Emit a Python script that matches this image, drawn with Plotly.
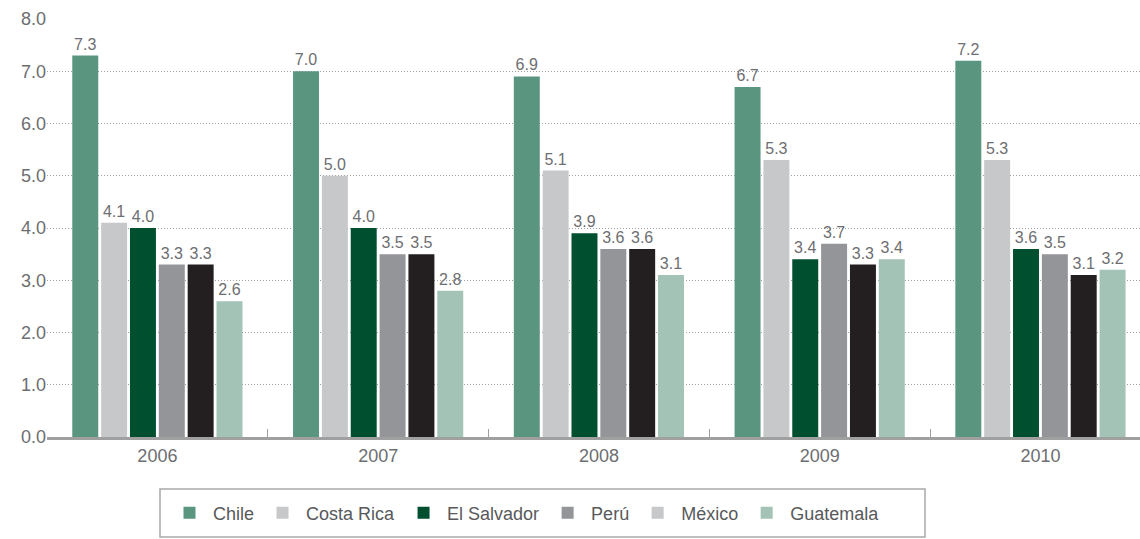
import plotly.graph_objects as go

years = ["2006", "2007", "2008", "2009", "2010"]
countries = ["Chile", "Costa Rica", "El Salvador", "Perú", "México", "Guatemala"]

chile = [7.3, 7.0, 6.9, 6.7, 7.2]
costa_rica = [4.1, 5.0, 5.1, 5.3, 5.3]
el_salvador = [4.0, 4.0, 3.9, 3.4, 3.6]
peru = [3.3, 3.5, 3.6, 3.7, 3.5]
mexico = [3.3, 3.5, 3.6, 3.3, 3.1]
guatemala = [2.6, 2.8, 3.1, 3.4, 3.2]

series = [chile, costa_rica, el_salvador, peru, mexico, guatemala]
bar_colors = ["#5a9580", "#c7c8ca", "#00502f", "#939598", "#231f20", "#a2c3b5"]
legend_colors = ["#5a9580", "#c7c8ca", "#00502f", "#939598", "#c7c8ca", "#a2c3b5"]

FONT = "Liberation Sans, Arial, sans-serif"
W, H = 1140, 539
ML, MT, MB = 47, 19, 102
PLOT_H = H - MT - MB

fig = go.Figure()
for i, (name, vals) in enumerate(zip(countries, series)):
    same = bar_colors[i] == legend_colors[i]
    fig.add_trace(go.Bar(
        x=years, y=vals, name=name,
        marker=dict(color=bar_colors[i], line=dict(width=0)),
        offsetgroup=str(i), legendrank=i + 1,
        texttemplate="%{y:.1f}", textposition="outside",
        textfont=dict(size=16, color="#6d6e71", family=FONT),
        cliponaxis=False, showlegend=same,
    ))
    if not same:
        # legend entry carries its own swatch colour
        fig.add_trace(go.Bar(
            x=[years[0]], y=[None], name=name,
            marker=dict(color=legend_colors[i], line=dict(width=0)),
            offsetgroup=str(i), legendrank=i + 1, showlegend=True,
        ))

def px_to_paper_y(py):
    return (H - MB - py) / PLOT_H

def px_to_paper_x(px):
    return (px - ML) / (W - ML)

# frame around the legend
fig.add_shape(
    type="rect", xref="paper", yref="paper",
    x0=px_to_paper_x(160), x1=px_to_paper_x(925),
    y0=px_to_paper_y(537), y1=px_to_paper_y(489),
    line=dict(color="#a7a9ac", width=1.5), fillcolor="rgba(0,0,0,0)",
)

fig.update_layout(
    width=W, height=H,
    margin=dict(l=ML, r=0, t=MT, b=MB),
    paper_bgcolor="white", plot_bgcolor="white",
    barmode="group", bargap=0.216, bargroupgap=0.1,
    font=dict(family=FONT, color="#6d6e71"),
    showlegend=True,
    legend=dict(
        orientation="h", x=px_to_paper_x(166), xanchor="left",
        y=px_to_paper_y(513), yanchor="middle",
        borderwidth=0, bgcolor="rgba(0,0,0,0)",
        font=dict(size=18, color="#58595b", family=FONT),
        traceorder="normal", itemwidth=37,
    ),
)
fig.update_xaxes(
    type="category", range=[-0.5, 4.451], showgrid=False,
    showline=True, linecolor="#a0a0a0", linewidth=3,
    ticks="inside", tickson="boundaries", ticklen=8, tickcolor="#a0a0a0", tickwidth=1,
    tickfont=dict(size=18, color="#6d6e71"),
)
fig.update_yaxes(
    range=[0, 8], dtick=1, tickformat=".1f",
    showgrid=True, gridcolor="#a0a0a0", griddash="1px,2px", gridwidth=1,
    zeroline=False, showline=False, ticks="",
    tickfont=dict(size=18, color="#6d6e71"),
)

fig.write_html("out.html")
